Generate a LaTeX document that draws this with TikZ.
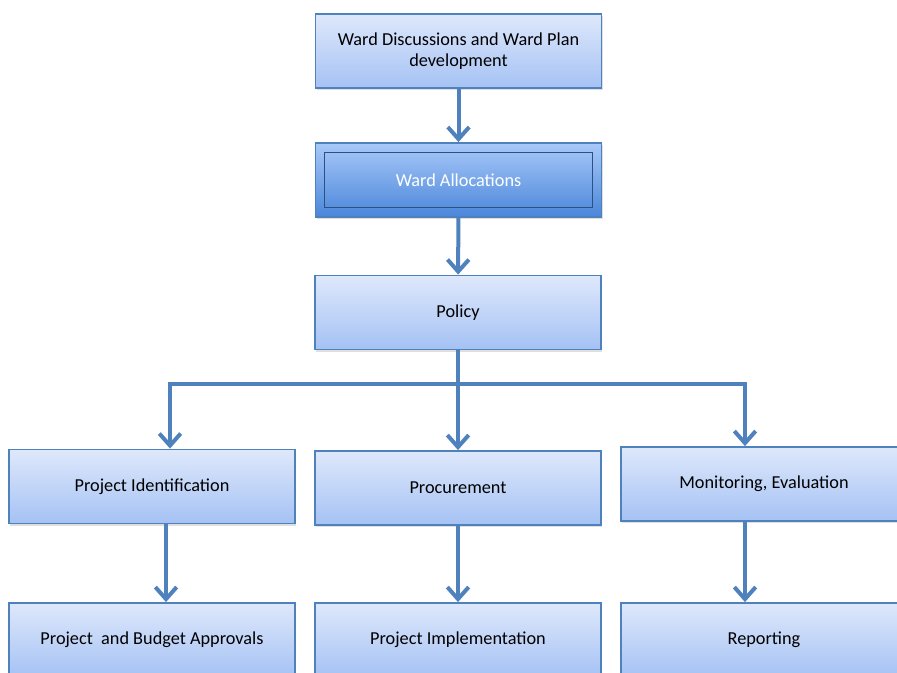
\documentclass[tikz,border=0pt]{standalone}
\usepackage{fontspec}
\setmainfont{Carlito}
\usepackage{xcolor}
\usepackage{tikz}
\usetikzlibrary{shapes,arrows.meta,positioning,shadows}

\definecolor{boxline}{HTML}{4F81BD}
\definecolor{boxtop}{HTML}{DEE8FB}
\definecolor{boxbottom}{HTML}{A5C2F4}
\definecolor{darktop}{HTML}{A9C9F9}
\definecolor{darkbottom}{HTML}{4A86DA}

\tikzset{
    stepbox/.style={
        draw=boxline,
        line width=1.4pt,
        top color=boxtop,
        bottom color=boxbottom,
        minimum width=214.5pt,
        minimum height=55.5pt,
        align=center,
        font=\fontsize{13.7}{15.75}\selectfont,
        drop shadow={opacity=0.25, shadow xshift=1pt, shadow yshift=-1.5pt}
    },
    keybox/.style={
        stepbox,
        top color=darktop,
        bottom color=darkbottom,
        text=white
    },
    flow/.style={
        draw=boxline,
        line width=3pt,
        -{Straight Barb[length=9pt,width=16pt]}
    },
    branch/.style={
        draw=boxline,
        line width=2.5pt
    }
}

\begin{document}
\begin{tikzpicture}[x=0.75pt,y=-0.75pt]
    \clip (0,0) rectangle (897,672);

    % top of the chain
    \node[stepbox] (wdisc) at (458.5,51) {Ward Discussions and Ward Plan\\development};
    \node[keybox] (walloc) at (458.5,180) {Ward Allocations};
    \draw[
        draw=darkbottom!60!black,
        line width=0.8pt
        ] ([shift={(7.5pt,-7.5pt)}]walloc.north west) rectangle ([shift={(-7.5pt,7.5pt)}]walloc.south east);
    \node[stepbox] (policy) at (458,312.5) {Policy};

    % middle row
    \node[stepbox] (pid) at (152,486.5) {Project Identification};
    \node[stepbox] (proc) at (458,488) {Procurement};
    \node[stepbox] (mon) at (764,484) {Monitoring, Evaluation};

    % bottom row
    \node[stepbox] (pba) at (152,640) {Project~ and Budget Approvals};
    \node[stepbox] (pimp) at (458,640) {Project Implementation};
    \node[stepbox] (rep) at (764,640) {Reporting};

    % fork below policy
    \coordinate (fork) at (458,384);
    \coordinate (forkl) at (170,384);
    \coordinate (forkr) at (745,384);

    \draw[flow] (wdisc) -- (walloc);
    \draw[flow] (walloc) -- (policy);
    \draw[branch] (policy.south) -- (fork);
    \draw[branch, line cap=rect] (forkl) -- (forkr);
    \draw[flow] (forkl) -- (forkl |- pid.north);
    \draw[flow] (fork) -- (proc.north);
    \draw[flow] (forkr) -- (forkr |- mon.north);

    \draw[flow] (pid.south -| 166,0) -- (pba.north -| 166,0);
    \draw[flow] (proc) -- (pimp);
    \draw[flow] (mon.south -| 745,0) -- (rep.north -| 745,0);
\end{tikzpicture}
\end{document}
